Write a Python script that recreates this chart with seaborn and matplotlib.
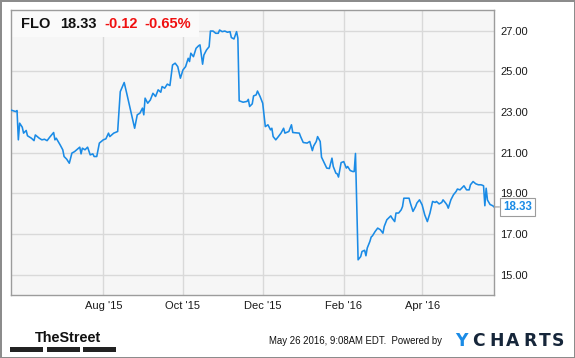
import matplotlib
matplotlib.use("Agg")
import matplotlib.pyplot as plt
from matplotlib.patches import Rectangle
import pandas as pd
import seaborn as sns

# ---------------- data ----------------
ticker = "FLO"
last_price = "18.33"
change = "-0.12"
change_pct = "-0.65%"
timestamp_text = "May 26 2016, 9:08AM EDT.  Powered by"
brand_left = "TheStreet"
brand_right = "YCHARTS"

dates = [
    "2015-05-22", "2015-05-26", "2015-05-27", "2015-05-28", "2015-05-29", "2015-05-31",
    "2015-06-01", "2015-06-03", "2015-06-04", "2015-06-07", "2015-06-09", "2015-06-10",
    "2015-06-13", "2015-06-15", "2015-06-17", "2015-06-19", "2015-06-21", "2015-06-24",
    "2015-06-25", "2015-06-26", "2015-06-29", "2015-07-01", "2015-07-02", "2015-07-04",
    "2015-07-06", "2015-07-08", "2015-07-10", "2015-07-13", "2015-07-14", "2015-07-15",
    "2015-07-16", "2015-07-18", "2015-07-20", "2015-07-22", "2015-07-24", "2015-07-25",
    "2015-07-27", "2015-07-29", "2015-08-01", "2015-08-03", "2015-08-05", "2015-08-06",
    "2015-08-09", "2015-08-12", "2015-08-14", "2015-08-17", "2015-08-19", "2015-08-22",
    "2015-08-25", "2015-08-27", "2015-08-29", "2015-08-31", "2015-09-01", "2015-09-02",
    "2015-09-04", "2015-09-06", "2015-09-08", "2015-09-10", "2015-09-12", "2015-09-14",
    "2015-09-15", "2015-09-17", "2015-09-19", "2015-09-21", "2015-09-23", "2015-09-25",
    "2015-09-27", "2015-09-29", "2015-10-01", "2015-10-03", "2015-10-05", "2015-10-06",
    "2015-10-07", "2015-10-09", "2015-10-11", "2015-10-13", "2015-10-14", "2015-10-16",
    "2015-10-17", "2015-10-19", "2015-10-21", "2015-10-22", "2015-10-24", "2015-10-26",
    "2015-10-28", "2015-10-29", "2015-10-31", "2015-11-02", "2015-11-04", "2015-11-06",
    "2015-11-07", "2015-11-09", "2015-11-11", "2015-11-12", "2015-11-13", "2015-11-16",
    "2015-11-19", "2015-11-20", "2015-11-21", "2015-11-23", "2015-11-24", "2015-11-26",
    "2015-11-27", "2015-11-29", "2015-12-01", "2015-12-03", "2015-12-05", "2015-12-07",
    "2015-12-08", "2015-12-09", "2015-12-11", "2015-12-13", "2015-12-15", "2015-12-17",
    "2015-12-18", "2015-12-21", "2015-12-23", "2015-12-24", "2015-12-29", "2015-12-30",
    "2016-01-01", "2016-01-04", "2016-01-06", "2016-01-08", "2016-01-09", "2016-01-11",
    "2016-01-12", "2016-01-14", "2016-01-15", "2016-01-17", "2016-01-19", "2016-01-21",
    "2016-01-23", "2016-01-24", "2016-01-26", "2016-01-27", "2016-01-28", "2016-01-30",
    "2016-02-01", "2016-02-03", "2016-02-04", "2016-02-06", "2016-02-08", "2016-02-09",
    "2016-02-10", "2016-02-12", "2016-02-14", "2016-02-15", "2016-02-17", "2016-02-18",
    "2016-02-19", "2016-02-20", "2016-02-21", "2016-02-22", "2016-02-23", "2016-02-25",
    "2016-02-27", "2016-02-29", "2016-03-02", "2016-03-03", "2016-03-05", "2016-03-07",
    "2016-03-08", "2016-03-09", "2016-03-11", "2016-03-12", "2016-03-14", "2016-03-16",
    "2016-03-17", "2016-03-18", "2016-03-20", "2016-03-22", "2016-03-23", "2016-03-25",
    "2016-03-27", "2016-03-28", "2016-03-30", "2016-04-01", "2016-04-03", "2016-04-05",
    "2016-04-07", "2016-04-09", "2016-04-11", "2016-04-12", "2016-04-14", "2016-04-16",
    "2016-04-17", "2016-04-19", "2016-04-20", "2016-04-21", "2016-04-23", "2016-04-25",
    "2016-04-27", "2016-04-28", "2016-04-30", "2016-05-02", "2016-05-03", "2016-05-05",
    "2016-05-07", "2016-05-08", "2016-05-10", "2016-05-12", "2016-05-14", "2016-05-16",
    "2016-05-17", "2016-05-18", "2016-05-19", "2016-05-20", "2016-05-21", "2016-05-23",
    "2016-05-25", "2016-05-26",
]

prices = [
    23.10, 23.02, 23.07, 21.63, 22.45, 22.25,
    21.96, 22.09, 21.83, 21.71, 21.59, 21.87,
    21.71, 21.63, 21.66, 21.59, 21.76, 21.99,
    21.63, 21.71, 21.38, 21.14, 20.81, 20.68,
    20.48, 20.98, 21.05, 21.22, 21.27, 20.94,
    21.22, 21.14, 21.27, 20.89, 20.94, 20.81,
    20.81, 21.47, 21.63, 21.68, 21.96, 21.79,
    21.96, 22.04, 24.00, 24.45, 23.90, 23.05,
    22.20, 22.86, 22.94, 23.19, 22.86, 23.68,
    23.43, 23.59, 23.92, 23.76, 24.09, 23.97,
    24.25, 24.17, 24.37, 24.30, 25.31, 25.40,
    25.23, 24.66, 25.07, 25.23, 25.64, 25.48,
    25.89, 25.72, 26.13, 26.26, 26.30, 25.35,
    25.80, 26.05, 26.21, 26.98, 26.98, 26.87,
    26.87, 27.03, 26.95, 26.98, 26.92, 26.95,
    26.66, 26.59, 26.95, 26.63, 23.55, 23.48,
    23.52, 23.62, 23.27, 23.40, 23.79, 23.84,
    24.03, 23.76, 23.43, 22.28, 22.37, 22.12,
    22.20, 21.79, 21.63, 21.79, 21.96, 22.20,
    21.96, 22.04, 22.37, 21.99, 21.96, 21.79,
    21.50, 21.47, 21.55, 21.10, 21.33, 21.55,
    21.79, 21.55, 20.78, 20.51, 20.24, 20.22,
    20.73, 20.32, 19.99, 19.96, 19.80, 20.51,
    20.56, 20.24, 20.32, 20.12, 20.07, 20.07,
    20.96, 15.73, 15.89, 16.14, 16.20, 15.93,
    16.31, 16.47, 16.63, 16.85, 16.91, 17.12,
    17.29, 17.21, 17.04, 17.37, 17.70, 17.83,
    17.89, 17.78, 17.61, 18.03, 18.03, 18.19,
    18.35, 18.76, 18.76, 18.76, 18.52, 18.11,
    18.35, 18.52, 18.68, 18.43, 17.94, 17.61,
    18.03, 18.60, 18.55, 18.60, 18.48, 18.55,
    18.68, 18.52, 18.43, 18.27, 18.68, 18.93,
    19.09, 19.21, 19.17, 19.30, 19.37, 19.17,
    19.17, 19.42, 19.58, 19.47, 19.42, 19.42,
    19.40, 19.37, 18.39, 19.25, 18.67, 18.45,
    18.39, 18.33,
]

x_tick_dates = ["2015-08-01", "2015-10-01", "2015-12-01", "2016-02-01", "2016-04-01"]
x_tick_labels = ["Aug '15", "Oct '15", "Dec '15", "Feb '16", "Apr '16"]
y_ticks = [15, 17, 19, 21, 23, 25, 27]
x_range = ["2015-05-22", "2016-05-26"]
y_range = [14.0, 28.0]

# ---------------- style ----------------
sns.set_theme(style="white")
plt.rcParams["font.family"] = ["Liberation Sans", "DejaVu Sans"]

W, H = 575, 358
BLUE = "#1a8be6"
RED = "#f01010"

df = pd.DataFrame({"date": pd.to_datetime(dates), "price": prices})

fig = plt.figure(figsize=(W / 100, H / 100), dpi=100, facecolor="white",
                 edgecolor="#8c8c8c", linewidth=2.0)

def fx(px):
    return px / W

def fy(py):
    return 1 - py / H

ax = fig.add_axes([fx(10.5), fy(295), (494 - 10.5) / W, (295 - 10.3) / H])
ax.set_facecolor("#f6f6f6")

sns.lineplot(data=df, x="date", y="price", ax=ax, color=BLUE, linewidth=1.15,
             zorder=3)

ax.set_xlim(pd.Timestamp(x_range[0]), pd.Timestamp(x_range[1]))
ax.set_ylim(*y_range)
ax.set_xlabel("")
ax.set_ylabel("")

ax.set_xticks(pd.to_datetime(x_tick_dates))
ax.set_xticklabels(x_tick_labels)
ax.yaxis.tick_right()
ax.set_yticks(y_ticks)
ax.set_yticklabels([f"{v:.2f}" for v in y_ticks])
ax.tick_params(axis="x", length=0, pad=4.5, labelsize=8, labelcolor="#1a1a1a")
ax.tick_params(axis="y", length=0, pad=4.5, labelsize=8, labelcolor="#1a1a1a")

ax.grid(True, color="#d9d9d9", linewidth=1.0)
ax.set_axisbelow(True)
for s in ax.spines.values():
    s.set_color("#9c9c9c")
    s.set_linewidth(1.0)

# header box
ax.add_patch(Rectangle((fx(11), fy(36.7)), (199 - 11) / W, (36.7 - 11) / H,
                       transform=fig.transFigure, facecolor="#fafafa",
                       edgecolor="none", zorder=1))
hdr = dict(fontsize=10.5, fontweight="bold", va="baseline")
fig.text(fx(21), fy(28.5), ticker, color="#111111", **hdr)
fig.text(fx(60), fy(28.5), last_price, color="#111111", **hdr)
fig.text(fx(104), fy(28.5), change, color=RED, **hdr)
fig.text(fx(144), fy(28.5), change_pct, color=RED, **hdr)

# last value label
last_date = df["date"].iloc[-1]
last_val = df["price"].iloc[-1]
ax.annotate(f"{last_val:.2f}", xy=(last_date, last_val), xytext=(6.3, 0),
            textcoords="offset points", ha="left", va="center",
            fontsize=8.3, fontweight="bold", color=BLUE, annotation_clip=False,
            bbox=dict(boxstyle="square,pad=0.25", fc="white", ec="#9c9c9c", lw=0.8),
            arrowprops=dict(arrowstyle="-", color="#9c9c9c", lw=0.8,
                            shrinkA=0, shrinkB=0),
            zorder=6)

# footer
fig.text(fx(35), fy(342.5), brand_left, fontsize=10.4, fontweight="bold",
         color="#111111", va="baseline")
for x0, x1 in [(10, 43), (47, 79.5), (83, 116)]:
    fig.add_artist(Rectangle((fx(x0), fy(351.5)), (x1 - x0) / W, 4.5 / H,
                             transform=fig.transFigure, facecolor="#222222",
                             edgecolor="none"))

fig.text(fx(269), fy(344.5), timestamp_text, fontsize=6.95, color="#111111",
         va="baseline")
letter_cx = [461.5, 478.3, 496.3, 513.0, 530.3, 544.7, 558.0]
for i, ch in enumerate(brand_right):
    fig.text(fx(letter_cx[i]), fy(345.8), ch, fontsize=12.3, fontweight="bold",
             color=BLUE if i == 0 else "#16263a", va="baseline", ha="center",
             family=["DejaVu Sans"])

fig.savefig("out.png", dpi=100, facecolor=fig.get_facecolor(),
            edgecolor=fig.get_edgecolor())
